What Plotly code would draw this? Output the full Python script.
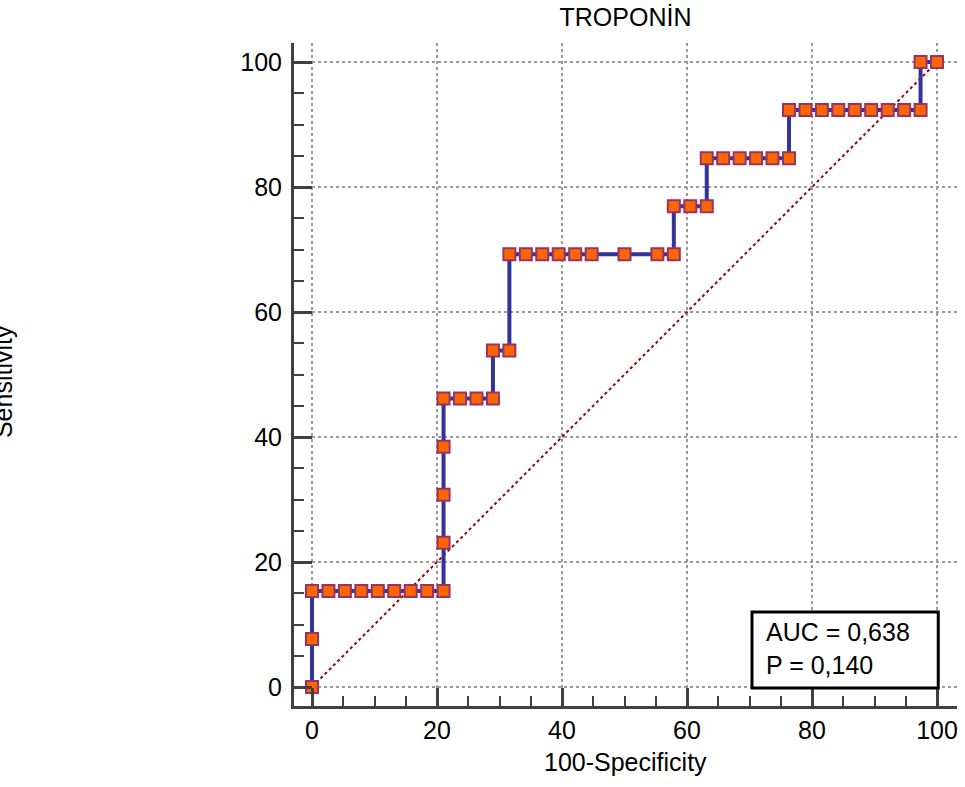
import plotly.graph_objects as go

# ROC curve points: 100-Specificity (%) and Sensitivity (%)
fpr = [0, 0, 0, 2.63, 5.26, 7.89, 10.53, 13.16, 15.79, 18.42, 21.05,
       21.05, 21.05, 21.05, 21.05, 23.68, 26.32, 28.95, 28.95, 31.58,
       31.58, 34.21, 36.84, 39.47, 42.11, 44.74, 50.00, 55.26, 57.89,
       57.89, 60.53, 63.16, 63.16, 65.79, 68.42, 71.05, 73.68, 76.32,
       76.32, 78.95, 81.58, 84.21, 86.84, 89.47, 92.11, 94.74, 97.37,
       97.37, 100]
tpr = [0, 7.69, 15.38, 15.38, 15.38, 15.38, 15.38, 15.38, 15.38, 15.38, 15.38,
       23.08, 30.77, 38.46, 46.15, 46.15, 46.15, 46.15, 53.85, 53.85,
       69.23, 69.23, 69.23, 69.23, 69.23, 69.23, 69.23, 69.23, 69.23,
       76.92, 76.92, 76.92, 84.62, 84.62, 84.62, 84.62, 84.62, 84.62,
       92.31, 92.31, 92.31, 92.31, 92.31, 92.31, 92.31, 92.31, 92.31,
       100, 100]

diag_x = [0, 100]
diag_y = [0, 100]

title_text = "TROPONİN"
x_title = "100-Specificity"
y_title = "Sensitivity"
auc_text = "AUC = 0,638"
p_text = "P = 0,140"
tick_vals = [0, 20, 40, 60, 80, 100]

FONT = "Liberation Sans, Arial, sans-serif"
AXIS_COL = "#404040"

fig = go.Figure()

# reference diagonal
fig.add_trace(go.Scatter(
    x=diag_x, y=diag_y, mode="lines",
    line=dict(color="#A00000", width=2, dash="dot"),
    hoverinfo="skip", showlegend=False))

# ROC curve
fig.add_trace(go.Scatter(
    x=fpr, y=tpr, mode="lines+markers",
    line=dict(color="#333399", width=4),
    marker=dict(symbol="square", size=12, color="#FF6600",
                line=dict(color="#993366", width=2)),
    showlegend=False))

axis_common = dict(
    showline=True, linecolor=AXIS_COL, linewidth=3,
    ticks="inside", ticklen=18, tickwidth=3, tickcolor=AXIS_COL,
    tickvals=tick_vals,
    tickfont=dict(family=FONT, size=25, color="black"),
    showgrid=True, gridcolor="#9a9a9a", gridwidth=1.5, griddash="dot",
    zeroline=False, mirror=False,
    minor=dict(dtick=5, tick0=0, ticks="inside", ticklen=10,
               tickwidth=2, tickcolor=AXIS_COL, showgrid=False),
)

fig.update_xaxes(range=[-2.88, 103.2], ticklabelstandoff=0, **axis_common)
fig.update_yaxes(range=[-3.04, 103.04], ticklabelstandoff=4, **axis_common)

# AUC box
fig.add_shape(type="rect", xref="x", yref="y",
              x0=70.4, x1=100.2, y0=-0.16, y1=12.0,
              line=dict(color="black", width=3), fillcolor="white",
              layer="above")
fig.add_annotation(xref="x", yref="y", x=72.3, y=6.1,
                   text=auc_text + "<br>" + p_text,
                   showarrow=False, xanchor="left", yanchor="middle",
                   align="left",
                   font=dict(family=FONT, size=25, color="black"))

# axis titles
fig.add_annotation(xref="paper", yref="paper", x=0.5, y=-0.085,
                   text=x_title, showarrow=False,
                   xanchor="center", yanchor="middle",
                   font=dict(family=FONT, size=25, color="black"))
fig.add_annotation(xref="paper", yref="paper", x=-0.439, y=0.49,
                   text=y_title, textangle=-90, showarrow=False,
                   xanchor="center", yanchor="middle",
                   font=dict(family=FONT, size=25, color="black"))

fig.update_layout(
    width=965, height=787,
    margin=dict(l=294, r=8, t=43, b=81, autoexpand=False),
    paper_bgcolor="white", plot_bgcolor="white",
    title=dict(text=title_text, x=0.5, xref="paper",
               y=1 - 17 / 787, yref="container", yanchor="middle",
               font=dict(family=FONT, size=25, color="black")),
    showlegend=False,
)

fig.write_html("out.html")
